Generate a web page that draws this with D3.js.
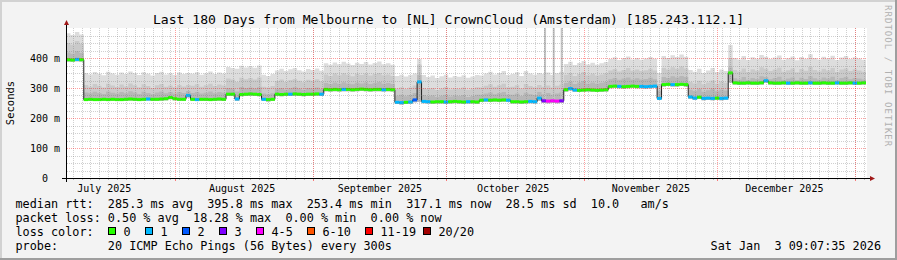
<!DOCTYPE html>
<html lang="en">
  <head>
    <meta charset="UTF-8" />
    <title>Last 180 Days from Melbourne to CrownCloud (Amsterdam)</title>
    <script src="https://d3js.org/d3.v7.min.js"></script>
    <style>
      body { margin: 0; background: #f3f3f3; }
      svg text { font-family: "DejaVu Sans Mono", monospace; white-space: pre; }
    </style>
  </head>
  <body>
    <div id="chart"></div>

    <script>
      // time window of the graph (180 days, one sample per day)
      const startTime = Date.UTC(2025, 6, 7, 9, 7, 35);
      const endTime = Date.UTC(2026, 0, 3, 9, 7, 35);

      // median rtt per day (ms)
      const median = [
        396, 395, 397, 396,
        263, 264, 263, 263, 264, 263, 264, 263, 263, 264, 265, 264, 263, 264, 265, 264, 264, 265, 266, 270, 266, 264, 264,
        277,
        264, 263, 264, 264, 263, 264, 265, 264,
        281, 281, 265, 280, 281, 282, 281, 280,
        264, 263, 264,
        281, 280, 281, 281, 282, 281, 280, 281, 281, 282, 281,
        297, 296, 297, 296, 297, 297, 296, 297, 298, 297, 296, 297, 297, 296, 297, 296,
        254, 253, 254, 255, 262,
        322,
        257,
        256, 255, 256, 256, 255, 256, 257, 256, 255, 256, 256, 255,
        261, 262, 261, 262, 261, 262, 261,
        256, 256, 255, 256, 257, 256,
        268,
        259, 258, 259, 258, 259,
        296, 300, 295, 294, 295, 296, 295, 294, 295, 296,
        307, 308, 307, 306, 307, 308, 307, 307, 306, 307, 308,
        267,
        313, 314, 313, 313, 314, 313,
        272, 268, 271, 267, 268, 267, 268, 267, 268,
        352,
        319, 318, 318, 319, 318, 318, 319, 326, 319, 318, 318, 319, 318, 318, 319, 318, 318, 319, 318, 318, 319, 318, 318, 319, 318, 318, 319, 318, 318, 319,
      ];

      // fastest ping per day (ms)
      const rttMin = [
        390, 389, 391, 390,
        258, 259, 258, 258, 259, 258, 259, 258, 258, 259, 260, 259, 258, 259, 260, 259, 259, 260, 261, 264, 261, 259, 259,
        270,
        258, 258, 259, 258, 258, 259, 259, 258,
        275, 275, 259, 274, 275, 276, 275, 274,
        258, 257, 258,
        275, 274, 275, 275, 276, 275, 274, 275, 275, 276, 275,
        291, 290, 291, 290, 291, 291, 290, 291, 292, 291, 290, 291, 291, 290, 291, 290,
        248, 247, 248, 249, 254,
        256,
        251,
        250, 249, 250, 250, 249, 250, 251, 250, 249, 250, 250, 249,
        255, 256, 255, 256, 255, 256, 255,
        250, 250, 249, 250, 251, 250,
        258,
        252, 251, 252, 251, 252,
        290, 293, 289, 288, 289, 290, 289, 288, 289, 290,
        301, 302, 301, 300, 301, 302, 301, 301, 300, 301, 302,
        262,
        307, 308, 307, 307, 308, 307,
        266, 262, 265, 261, 262, 261, 262, 261, 262,
        320,
        313, 312, 312, 313, 312, 312, 313, 320, 313, 312, 312, 313, 312, 312, 313, 312, 312, 313, 312, 312, 313, 312, 312, 313, 312, 312, 313, 312, 312, 313,
      ];

      // upper edge of the dark smoke band (ms)
      const p15 = [
        420, 416, 424, 418,
        287, 284, 289, 285, 282, 290, 286, 283, 288, 284, 291, 287, 282, 289, 285, 281, 287, 290, 284, 288, 283, 288, 285,
        292,
        285, 288, 283, 286, 290, 284, 288, 286,
        302, 300, 290, 305, 301, 303, 300, 304,
        283, 281, 284,
        299, 302, 297, 301, 304, 300, 296, 302, 300, 303, 298,
        318, 315, 320, 316, 321, 317, 314, 319, 317, 320, 315, 318, 322, 316, 318, 315,
        276, 279, 274, 278, 285,
        345,
        278,
        274, 277, 272, 276, 279, 273, 277, 275, 278, 272, 275, 279,
        279, 283, 287, 281, 285, 288, 280,
        279, 283, 275, 286, 281, 278,
        288,
        281, 285, 279, 283, 287,
        318, 323, 315, 320, 325, 316, 320, 316, 319, 322,
        331, 335, 329, 333, 337, 330, 334, 330, 332, 336, 331,
        292,
        338, 335, 341, 337, 342, 338,
        296, 292, 299, 289, 294, 300, 291, 297, 293,
        370,
        334, 330, 338, 329, 335, 332, 341, 338, 331, 335, 339, 329, 333, 337, 328, 336, 332, 341, 334, 330, 337, 333, 339, 329, 335, 338, 331, 335, 333, 330,
      ];

      // upper edge of the middle smoke band (ms)
      const p18 = [
        452, 446, 458, 449,
        312, 306, 315, 309, 303, 316, 310, 305, 313, 307, 317, 311, 304, 314, 308, 302, 311, 315, 306, 310, 304, 312, 307,
        312,
        309, 314, 306, 311, 316, 308, 313, 310,
        333, 330, 322, 336, 331, 335, 330, 337,
        306, 303, 308,
        325, 330, 322, 328, 332, 326, 321, 329, 326, 331, 324,
        347, 342, 350, 344, 351, 346, 341, 349, 345, 350, 343, 348, 352, 344, 347, 342,
        300, 304, 298, 303, 310,
        380,
        302,
        298, 302, 295, 300, 305, 297, 301, 299, 303, 296, 300, 304,
        303, 309, 314, 306, 311, 316, 304,
        306, 311, 300, 315, 308, 304,
        312,
        306, 310, 303, 309, 313,
        346, 352, 342, 348, 355, 344, 349, 343, 347, 351,
        360, 365, 357, 362, 368, 359, 363, 358, 361, 366, 360,
        315,
        368, 363, 371, 366, 373, 367,
        322, 317, 326, 314, 320, 327, 316, 323, 319,
        400,
        362, 357, 367, 355, 364, 359, 371, 366, 358, 363, 369, 356, 361, 367, 354, 365, 359, 372, 362, 357, 366, 360, 368, 355, 363, 367, 358, 364, 360, 356,
      ];

      // slowest ping per day (ms)
      const rttMax = [
        484, 478, 488, 480,
        352, 347, 355, 349, 344, 356, 350, 346, 353, 348, 357, 351, 345, 354, 349, 343, 352, 356, 347, 351, 345, 353, 348,
        352,
        349, 354, 346, 351, 357, 348, 353, 350,
        372, 368, 366, 376, 370, 374, 369, 377,
        346, 342, 348,
        360, 366, 358, 364, 368, 361, 357, 365, 362, 367, 359,
        384, 379, 387, 381, 389, 383, 378, 386, 382, 388, 380, 385, 390, 381, 384, 379,
        342, 346, 340, 345, 350,
        398,
        345,
        338, 343, 335, 341, 346, 337, 342, 339, 344, 336, 340, 345,
        343, 350, 356, 347, 352, 358, 345,
        348, 354, 342, 358, 350, 346,
        352,
        348, 353, 345, 351, 356,
        382, 389, 378, 385, 392, 380, 386, 379, 384, 388,
        398, 404, 395, 401, 407, 397, 402, 396, 400, 405, 399,
        352,
        408, 402, 411, 405, 413, 406,
        362, 356, 366, 352, 360, 368, 355, 363, 358,
        445,
        402, 397, 408, 395, 404, 399, 412, 406, 398, 403, 410, 396, 401, 407, 394, 405, 399, 414, 402, 397, 406, 400, 409, 395, 403, 408, 398, 404, 400, 396,
      ];

      // lost pings (of 20) per day
      const lossPings = [
        0, 0, 1, 0,
        0, 0, 0, 0, 0, 0, 0, 0, 0, 0, 0, 0, 0, 0, 1, 0, 0, 0, 0, 0, 0, 0, 0,
        1,
        0, 1, 0, 0, 0, 0, 0, 0,
        0, 0, 1, 0, 0, 0, 0, 0,
        1, 0, 0,
        0, 0, 0, 1, 0, 0, 0, 0, 0, 0, 1,
        0, 0, 0, 0, 1, 0, 0, 0, 0, 0, 0, 0, 0, 1, 0, 0,
        1, 1, 0, 1, 2,
        1,
        1,
        1, 0, 0, 0, 1, 0, 0, 0, 0, 1, 0, 0,
        0, 1, 0, 0, 0, 0, 1,
        0, 0, 0, 0, 1, 1,
        1,
        3, 5, 4, 5, 3,
        0, 1, 1, 0, 0, 0, 0, 0, 0, 0,
        0, 0, 1, 0, 0, 0, 0, 1, 1, 1, 1,
        1,
        0, 0, 1, 0, 0, 0,
        1, 1, 0, 1, 1, 1, 0, 1, 1,
        0,
        0, 0, 0, 0, 0, 0, 0, 1, 0, 0, 0, 0, 1, 0, 0, 0, 0, 1, 0, 0, 0, 0, 0, 1, 0, 0, 0, 1, 0, 0,
      ];

      // short single-sample smoke spikes (max rtt, ms)
      const spikeTimes = ["2025-10-23T04:00Z", "2025-10-25T03:00Z", "2025-10-26T22:00Z"];
      const spikeMax = [560, 560, 560];

      const yTicks = [0, 100, 200, 300, 400];
      const yTickLabels = ["  0", "100 m", "200 m", "300 m", "400 m"];
      const monthLabels = ["July 2025", "August 2025", "September 2025", "October 2025", "November 2025", "December 2025"];
      const monthLabelDates = ["2025-07-16", "2025-08-16", "2025-09-16", "2025-10-16", "2025-11-16", "2025-12-16"];

      const lossLabels = ["0", "1", "2", "3", "4-5", "6-10", "11-19", "20/20"];
      const lossColors = ["#26ff00", "#00b8ff", "#0059ff", "#7e00ff", "#ff00ff", "#ff5500", "#ff0000", "#a10000"];

      const rttStats = [285.3, 395.8, 253.4, 317.1];
      const rttSd = 28.5;
      const amPerSec = 10.0;
      const lossStats = [0.5, 18.28, 0.0, 0.0];

      function lossColor(n) {
        if (n <= 3) return lossColors[n];
        if (n <= 5) return lossColors[4];
        if (n <= 10) return lossColors[5];
        if (n <= 19) return lossColors[6];
        return lossColors[7];
      }

      const W = 897, H = 260;
      const svg = d3.select("#chart").append("svg").attr("width", W).attr("height", H);

      // background and 3d frame
      svg.append("rect").attr("width", W).attr("height", H).attr("fill", "#f3f3f3");
      svg.append("path").attr("d", `M0,0H${W}V2H2V${H}H0Z`).attr("fill", "#d2d2d2");
      svg.append("path").attr("d", `M${W},${H}H0V${H - 2}H${W - 2}V0H${W}Z`).attr("fill", "#9e9e9e");

      const x = d3.scaleUtc().domain([startTime, endTime]).range([66, 866]);
      const y = d3.scaleLinear().domain([0, 500]).range([178.5, 28.5]);
      const px = (v) => Math.round(v - 0.5) + 0.5;

      // canvas
      svg.append("rect").attr("x", 67).attr("y", 28).attr("width", 800).attr("height", 150).attr("fill", "#fff");
      svg.append("clipPath").attr("id", "plot")
        .append("rect").attr("x", 67).attr("y", 28).attr("width", 799).attr("height", 150);

      const plot = svg.append("g").attr("clip-path", "url(#plot)");

      const rows = median.map((m, i) => ({
        date: new Date(startTime + i * 86400000),
        med: m, min: rttMin[i], p15: p15[i], p18: p18[i], max: rttMax[i], loss: lossPings[i],
      }));
      const stepRows = rows.concat([{ ...rows[rows.length - 1], date: new Date(endTime) }]);

      // smoke
      const bands = [["max", "#dddddd"], ["p18", "#cacaca"], ["p15", "#b7b7b7"]];
      bands.forEach(([key, col]) => {
        plot.append("path")
          .datum(stepRows)
          .attr("fill", col)
          .attr("d", d3.area().curve(d3.curveStepAfter)
            .x((d) => x(d.date)).y0((d) => y(d.min)).y1((d) => y(d[key])));
      });

      plot.selectAll(".spike")
        .data(spikeTimes.map((t, i) => ({ date: new Date(t), max: spikeMax[i] })))
        .join("rect")
        .attr("x", (d) => x(d.date) - 1)
        .attr("width", 2)
        .attr("y", (d) => y(d.max))
        .attr("height", (d) => y(260) - y(d.max))
        .attr("fill", "#c4c4c4");

      // grid
      const grid = svg.append("g").attr("clip-path", "url(#plot)");
      const minorDays = d3.utcDay.range(Date.UTC(2025, 6, 9), endTime).filter((d, i) => i % 2 === 0);
      const months = d3.utcMonth.range(startTime, endTime);
      grid.selectAll(".vminor").data(minorDays).join("line")
        .attr("x1", (d) => px(x(d))).attr("x2", (d) => px(x(d)))
        .attr("y1", 28).attr("y2", 178)
        .attr("stroke", "rgba(120,120,120,0.35)").attr("stroke-dasharray", "1,1");
      const hMinor = d3.range(25, 500, 25).filter((v) => v % 100 !== 0);
      grid.selectAll(".hminor").data(hMinor).join("line")
        .attr("x1", 67).attr("x2", 866)
        .attr("y1", (d) => px(y(d))).attr("y2", (d) => px(y(d)))
        .attr("stroke", "rgba(120,120,120,0.35)").attr("stroke-dasharray", "1,1");
      grid.selectAll(".vmajor").data(months).join("line")
        .attr("x1", (d) => px(x(d))).attr("x2", (d) => px(x(d)))
        .attr("y1", 28).attr("y2", 178)
        .attr("stroke", "rgba(255,0,0,0.38)").attr("stroke-dasharray", "1,1");
      grid.selectAll(".hmajor").data(yTicks.slice(1)).join("line")
        .attr("x1", 67).attr("x2", 866)
        .attr("y1", (d) => px(y(d))).attr("y2", (d) => px(y(d)))
        .attr("stroke", "rgba(255,0,0,0.38)").attr("stroke-dasharray", "1,1");

      // median line with loss colours
      plot.append("path")
        .datum(stepRows)
        .attr("fill", "none")
        .attr("stroke", "#202020")
        .attr("stroke-width", 1)
        .attr("d", d3.line().curve(d3.curveStepAfter).x((d) => x(d.date)).y((d) => y(d.med)));
      plot.selectAll(".loss").data(rows).join("rect")
        .attr("x", (d) => x(d.date))
        .attr("width", (d) => x(new Date(+d.date + 86400000)) - x(d.date))
        .attr("y", (d) => y(d.med) - 1.5)
        .attr("height", 3)
        .attr("fill", (d) => lossColor(d.loss));

      // axes
      svg.append("line").attr("x1", 62).attr("x2", 870).attr("y1", 178.5).attr("y2", 178.5).attr("stroke", "#000");
      svg.append("line").attr("x1", 66.5).attr("x2", 66.5).attr("y1", 182).attr("y2", 24).attr("stroke", "#000");
      svg.append("path").attr("d", "M870,176L875,178.5L870,181Z").attr("fill", "#a01818");
      svg.append("path").attr("d", "M64,25L66.5,20L69,25Z").attr("fill", "#a01818");

      svg.selectAll(".xtick").data(months).join("line")
        .attr("x1", (d) => px(x(d))).attr("x2", (d) => px(x(d)))
        .attr("y1", 179).attr("y2", 181)
        .attr("stroke", "rgba(255,0,0,0.5)");
      svg.selectAll(".xminortick").data(minorDays).join("line")
        .attr("x1", (d) => px(x(d))).attr("x2", (d) => px(x(d)))
        .attr("y1", 179).attr("y2", 180)
        .attr("stroke", "rgba(120,120,120,0.45)");

      // y tick labels
      svg.selectAll(".ylab").data(yTicks).join("text")
        .attr("x", 30)
        .attr("y", (d) => y(d) + 3.5)
        .attr("font-size", 10)
        .text((d, i) => yTickLabels[i]);

      // x month labels
      svg.selectAll(".xlab").data(monthLabelDates).join("text")
        .attr("x", (d) => x(new Date(d + "T00:00Z")))
        .attr("y", 191.5)
        .attr("font-size", 10)
        .attr("text-anchor", "middle")
        .text((d, i) => monthLabels[i]);

      // title, axis label, watermark
      svg.append("text").attr("x", 448.5).attr("y", 24).attr("font-size", 13.1).attr("text-anchor", "middle")
        .text("Last 180 Days from Melbourne to [NL] CrownCloud (Amsterdam) [185.243.112.1]");
      svg.append("text").attr("transform", "translate(13.5,103) rotate(-90)").attr("font-size", 10.5)
        .attr("text-anchor", "middle").text("Seconds");
      svg.append("text").attr("transform", "translate(884.5,5) rotate(90)").attr("font-size", 9)
        .attr("letter-spacing", 1.05).attr("fill", "#b0b0b0").text("RRDTOOL / TOBI OETIKER");

      // legend
      const fs = 11.8, lx = 15.5;
      const f1 = (v) => v.toFixed(1), f2 = (v) => v.toFixed(2);
      const row1 = `median rtt:  ${f1(rttStats[0])} ms avg  ${f1(rttStats[1])} ms max  ${f1(rttStats[2])} ms min  ${f1(rttStats[3])} ms now  ${f1(rttSd)} ms sd  ${f1(amPerSec)}   am/s`;
      const row2 = `packet loss: ${f2(lossStats[0])} % avg  ${f2(lossStats[1])} % max  ${f2(lossStats[2])} % min  ${f2(lossStats[3])} % now`;
      svg.append("text").attr("x", lx).attr("y", 208.3).attr("font-size", fs).text(row1);
      svg.append("text").attr("x", lx).attr("y", 222.2).attr("font-size", fs).text(row2);
      svg.append("text").attr("x", lx).attr("y", 236).attr("font-size", fs).text("loss color:");
      svg.append("text").attr("x", lx).attr("y", 249.8).attr("font-size", fs)
        .text("probe:       20 ICMP Echo Pings (56 Bytes) every 300s");
      svg.append("text").attr("x", 881).attr("y", 249.8).attr("font-size", fs).attr("text-anchor", "end")
        .text("Sat Jan  3 09:07:35 2026");

      // loss colour swatches (legend layout as rrdtool spaces them)
      const swatchX = [108.5, 145.5, 182.5, 219.5, 256.5, 307.5, 365.5, 423.5];
      const items = svg.selectAll(".lossitem").data(lossLabels).join("g")
        .attr("transform", (d, i) => `translate(${swatchX[i]},227.5)`);
      items.append("rect").attr("width", 7).attr("height", 7)
        .attr("fill", (d, i) => lossColors[i]).attr("stroke", "#000");
      items.append("text").attr("x", 15).attr("y", 8.5).attr("font-size", fs).text((d) => d);
    </script>
  </body>
</html>
